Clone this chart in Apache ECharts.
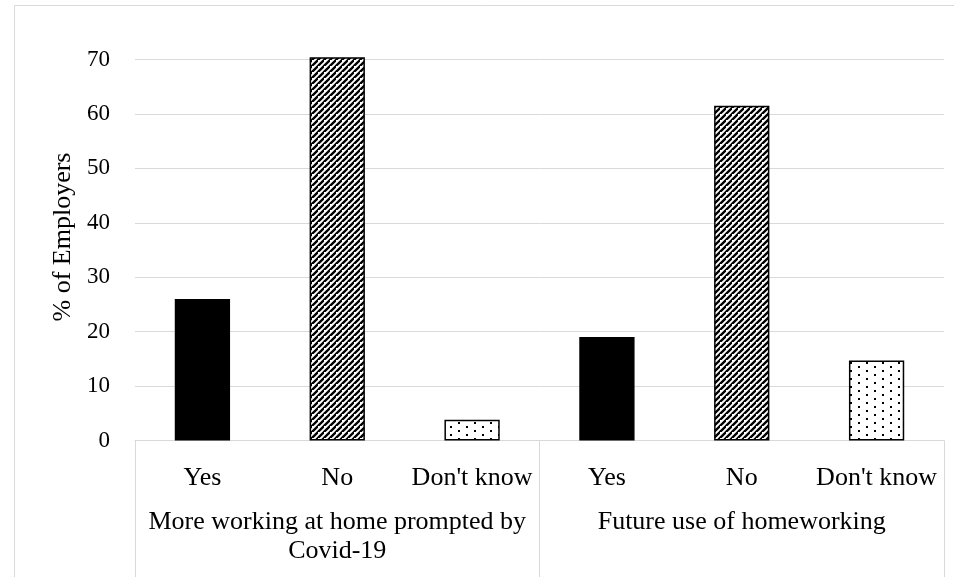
<!DOCTYPE html>
<html>
<head>
<meta charset="utf-8">
<script src="https://cdn.jsdelivr.net/npm/echarts@6/dist/echarts.min.js"></script>
<style>
html,body{margin:0;padding:0;background:#fff;}
#chart{width:954px;height:577px;}
</style>
</head>
<body>
<div id="chart"></div>
<script>
// ---- data ----
const categories = ['Yes', 'No', "Don't know", 'Yes', 'No', "Don't know"];
const groups = ['More working at home prompted by\nCovid-19', 'Future use of homeworking'];
const values = [26.0, 70.4, 3.8, 19.0, 61.5, 14.7];
const yAxisName = '% of Employers';
const yMin = 0, yMax = 70, yStep = 10;

// ---- patterns ----
function stripePattern() {
  const s = 6;
  const c = document.createElement('canvas');
  c.width = s; c.height = s;
  const g = c.getContext('2d');
  g.fillStyle = '#fff'; g.fillRect(0, 0, s, s);
  g.strokeStyle = '#000'; g.lineWidth = 2.3;
  g.beginPath();
  g.moveTo(-2, s + 2); g.lineTo(s + 2, -2);
  g.moveTo(-s - 2, s + 2 - s); g.lineTo(2, -s - 2 + 0);
  g.moveTo(-2, 2 * s + 2); g.lineTo(2 * s + 2, -2);
  g.stroke();
  return c;
}
function dotPattern() {
  const c = document.createElement('canvas');
  c.width = 16; c.height = 8;
  const g = c.getContext('2d');
  g.fillStyle = '#fff'; g.fillRect(0, 0, 16, 8);
  g.fillStyle = '#000';
  g.fillRect(2, 2, 2, 2);
  g.fillRect(10, 6, 2, 2);
  return c;
}
const fills = [
  '#000000',
  { image: stripePattern(), repeat: 'repeat' },
  { image: dotPattern(), repeat: 'repeat' }
];

const font = 'Liberation Serif, Times New Roman, serif';
const chart = echarts.init(document.getElementById('chart'), null, { renderer: 'canvas' });

chart.setOption({
  backgroundColor: '#fff',
  animation: false,
  textStyle: { fontFamily: font },
  graphic: [{
    type: 'rect', left: 12, top: 3,
    shape: { x: 0, y: 0, width: 1000, height: 1000 },
    style: { fill: 'none', stroke: '#d9d9d9', lineWidth: 1 },
    silent: true, z: -10
  }],
  grid: { left: 135, right: 10, top: 59.5, bottom: 136.5, containLabel: false },
  xAxis: [{
    type: 'category',
    data: categories,
    axisLine: { show: true, lineStyle: { color: '#d9d9d9', width: 1 } },
    axisTick: { show: false },
    axisLabel: { interval: 0, margin: 23, color: '#000', fontSize: 26, fontFamily: font, lineHeight: 30 }
  }, {
    type: 'category',
    position: 'bottom',
    data: groups,
    axisLine: { show: false },
    axisTick: { show: true, alignWithLabel: false, length: 140, lineStyle: { color: '#d9d9d9', width: 1 } },
    axisLabel: { interval: 0, margin: 67, color: '#000', fontSize: 26, fontFamily: font, lineHeight: 29 }
  }],
  yAxis: {
    type: 'value',
    min: yMin, max: yMax, interval: yStep,
    name: yAxisName,
    nameLocation: 'middle',
    nameGap: 56,
    nameTextStyle: { color: '#000', fontSize: 26, fontFamily: font, padding: [0, 0, 0, 26] },
    axisLine: { show: false },
    axisTick: { show: false },
    axisLabel: { margin: 25, color: '#000', fontSize: 23, fontFamily: font },
    splitLine: { show: true, lineStyle: { color: '#d9d9d9', width: 1 } }
  },
  series: [{
    type: 'bar',
    xAxisIndex: 0,
    clip: false,
    barWidth: '41%',
    data: values.map((v, i) => ({
      value: v,
      itemStyle: { color: fills[i % 3], borderColor: '#000', borderWidth: 1.5 }
    }))
  }]
});
</script>
</body>
</html>
